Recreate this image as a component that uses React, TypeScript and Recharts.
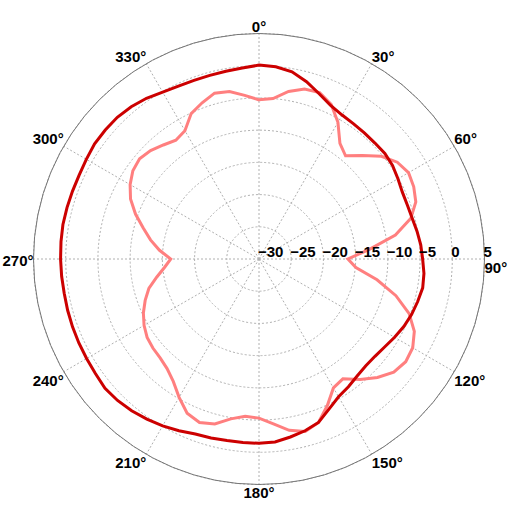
import { RadarChart, Radar, PolarGrid, PolarAngleAxis, PolarRadiusAxis } from 'recharts';

// angle in degrees, clockwise from top
const angles = [
  0, 5, 10, 15, 20, 25, 30, 35, 40, 45, 50, 55,
  60, 65, 70, 75, 80, 85, 90, 95, 100, 105, 110, 115,
  120, 125, 130, 135, 140, 145, 150, 155, 160, 165, 170, 175,
  180, 185, 190, 195, 200, 205, 210, 215, 220, 225, 230, 235,
  240, 245, 250, 255, 260, 265, 270, 275, 280, 285, 290, 295,
  300, 305, 310, 315, 320, 325, 330, 335, 340, 345, 350, 355,
];

// dark red trace (dB)
const darkTrace = [
  0.1, -0.05, -0.5, -1.5, -2.7, -3.7, -4.2, -4.4, -4.5, -4.55, -4.5, -4.7,
  -5.1, -5.45, -5.5, -5.4, -5.1, -4.8, -4.6, -4.3, -4.2, -4.5, -4.8, -5.2,
  -5.7, -6.2, -6.5, -6.55, -6.3, -5.8, -5.3, -4.3, -3.0, -2.4, -1.95, -1.5,
  -1.4, -1.4, -1.4, -1.25, -1.1, -0.6, -0.1, 0.35, 0.75, 1.05, 1.2, 1.0,
  0.9, 0.85, 0.8, 0.75, 0.7, 0.75, 0.8, 0.85, 0.9, 0.85, 0.8, 0.8,
  0.95, 1.15, 1.15, 1.1, 0.85, 0.45, -0.1, -0.4, -0.5, -0.5, -0.4, -0.25,
];

// light red trace (dB)
const lightTrace = [
  -5.3, -5.0, -3.6, -2.7, -2.5, -3.5, -5.5, -8.1, -9.1, -7.3, -5.2, -3.8,
  -3.2, -3.5, -4.1, -5.6, -8.5, -12.8, -16.2, -14.9, -11.4, -8.0, -5.2, -3.4,
  -2.45, -2.2, -2.7, -4.0, -5.6, -7.3, -6.9, -4.9, -3.0, -2.3, -3.0, -4.3,
  -5.3, -5.5, -4.8, -3.5, -3.0, -3.6, -5.2, -6.8, -7.8, -8.3, -8.5, -8.8,
  -9.4, -10.2, -11.2, -12.3, -13.9, -15.3, -16.3, -14.5, -12.9, -11.4, -9.6, -8.0,
  -6.9, -6.1, -5.8, -6.2, -6.9, -7.5, -7.0, -5.1, -4.2, -3.35, -3.6, -4.5,
];

const angleTicks = [0, 30, 60, 90, 120, 150, 180, 210, 240, 270, 300, 330];
const radiusTicks = [-30, -25, -20, -15, -10, -5, 0, 5];

const data = angles.map((angle, i) => ({
  angle,
  dark: darkTrace[i],
  light: lightTrace[i],
}));

const FONT = '"Liberation Sans", Arial, sans-serif';

// label placement around the outer ring
const labelPos: Record<number, { anchor: 'start' | 'middle' | 'end'; dy: number }> = {
  0: { anchor: 'middle', dy: -2 },
  30: { anchor: 'start', dy: -2 },
  60: { anchor: 'start', dy: -2 },
  90: { anchor: 'start', dy: 14 },
  120: { anchor: 'start', dy: 14 },
  150: { anchor: 'start', dy: 14 },
  180: { anchor: 'middle', dy: 13 },
  210: { anchor: 'end', dy: 14 },
  240: { anchor: 'end', dy: 14 },
  270: { anchor: 'end', dy: 7 },
  300: { anchor: 'end', dy: -2 },
  330: { anchor: 'end', dy: -2 },
};

function AngleTick(props: any) {
  const { x, y, payload } = props;
  const cx = props.cx ?? 259;
  const cy = props.cy ?? 259;
  // pull the label back onto the outer ring (recharts puts it tickSize outside)
  const dx = x - cx;
  const dy = y - cy;
  const d = Math.hypot(dx, dy) || 1;
  const r = props.radius ?? d - 8;
  const px = cx + (dx / d) * r;
  const py = cy + (dy / d) * r;
  const pos = labelPos[payload.value] || { anchor: 'middle', dy: 0 };
  return (
    <text
      x={px}
      y={py + pos.dy}
      textAnchor={pos.anchor}
      fontFamily={FONT}
      fontWeight="bold"
      fontSize={15}
      fill="#000"
    >
      {payload.value}°
    </text>
  );
}

function RadiusTick(props: any) {
  const { x, y, payload } = props;
  const v = payload.value as number;
  const label = v < 0 ? '\u2212' + Math.abs(v) : String(v);
  return (
    <text
      x={x - 1}
      y={y - 2}
      textAnchor="start"
      fontFamily={FONT}
      fontWeight="bold"
      fontSize={15}
      fill="#000"
    >
      {label}
    </text>
  );
}

export default function App() {
  return (
    <div style={{ position: 'absolute', left: 0, top: 0, width: 518, height: 518, background: '#fff' }}>
      <RadarChart
        width={518}
        height={518}
        data={data}
        cx={259}
        cy={259}
        outerRadius={225.5}
        margin={{ top: 0, right: 0, bottom: 0, left: 0 }}
      >
        <PolarGrid gridType="circle" stroke="#b0b0b0" strokeDasharray="2 2" />
        <PolarAngleAxis
          dataKey="angle"
          type="number"
          domain={[0, 360]}
          ticks={angleTicks}
          axisLineType="circle"
          stroke="#777"
          tickLine={false}
          tick={<AngleTick />}
        />
        <PolarRadiusAxis
          angle={0}
          type="number"
          domain={[-30, 5]}
          ticks={radiusTicks}
          axisLine={false}
          tickLine={false}
          tick={<RadiusTick />}
        />
        <Radar
          dataKey="light"
          stroke="#ff7f7f"
          strokeWidth={3}
          fill="none"
          fillOpacity={0}
          dot={false}
          isAnimationActive={false}
        />
        <Radar
          dataKey="dark"
          stroke="#cc0000"
          strokeWidth={3}
          fill="none"
          fillOpacity={0}
          dot={false}
          isAnimationActive={false}
        />
      </RadarChart>
    </div>
  );
}
